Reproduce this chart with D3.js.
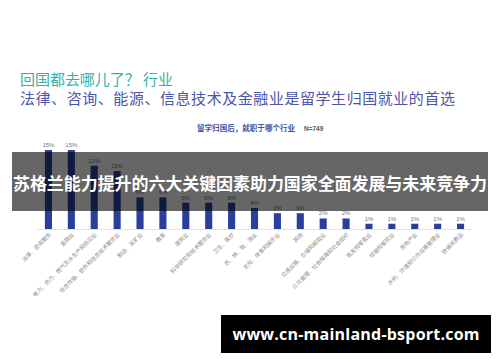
<!DOCTYPE html>
<html>
<head>
<meta charset="utf-8">
<script src="https://d3js.org/d3.v7.min.js"></script>
<style>
  html, body { margin: 0; padding: 0; background: #fff; }
  svg { display: block; }
</style>
</head>
<body>
<script>
  // data
  var categories = [
    "法律、咨询服务", "金融业", "电力、热力、燃气及水生产和供应业",
    "信息传输、软件和信息技术服务业", "制造、采矿业", "教育", "建筑业",
    "科学研究和技术服务业", "卫生、医疗", "农、林、牧、渔业",
    "文化、体育和娱乐业", "其他", "交通运输、仓储和邮政业",
    "公共管理、社会保障和社会组织", "批发和零售业", "住宿和餐饮业",
    "房地产业", "水利、环境和公共设施管理业", "快速消费品"
  ];
  var shares = [15, 15, 12, 11, 6, 6, 5, 5, 5, 4, 3, 3, 2, 2, 1, 1, 1, 1, 1];
  var titleLines = ["回国都去哪儿了？ 行业", "法律、咨询、能源、信息技术及金融业是留学生归国就业的首选"];
  var chartTitle = "留学归国后，就职于哪个行业";
  var sampleNote = "N=749";
  var bannerText = "苏格兰能力提升的六大关键因素助力国家全面发展与未来竞争力";
  var siteText = "www.cn-mainland-bsport.com";

  var W = 500, H = 362;
  var cjk = "'Noto Sans CJK SC', 'Noto Sans', sans-serif";

  var svg = d3.select("body").append("svg")
      .attr("width", W)
      .attr("height", H);

  svg.append("rect").attr("width", W).attr("height", H).attr("fill", "#fff");

  // headline
  svg.append("text")
      .attr("x", 20).attr("y", 85)
      .attr("font-family", cjk).attr("font-size", 15)
      .attr("fill", "#35b0a6")
      .attr("textLength", 153)
      .text(titleLines[0]);
  svg.append("text")
      .attr("x", 20).attr("y", 104)
      .attr("font-family", cjk).attr("font-size", 15)
      .attr("fill", "#4a56aa")
      .attr("textLength", 435)
      .text(titleLines[1]);

  svg.append("text")
      .attr("x", 197).attr("y", 131)
      .attr("font-family", cjk).attr("font-size", 7.5).attr("font-weight", 700)
      .attr("fill", "#4154a5")
      .attr("textLength", 98)
      .text(chartTitle);
  svg.append("text")
      .attr("x", 304).attr("y", 131)
      .attr("font-family", "'Liberation Sans', sans-serif").attr("font-size", 6.5).attr("font-weight", 700)
      .attr("fill", "#555")
      .text(sampleNote);

  // bar chart
  var x = d3.scaleBand()
      .domain(categories)
      .range([37, 472])
      .paddingInner(0.69)
      .paddingOuter(0.345);

  var y = d3.scaleLinear()
      .domain([0, 15])
      .range([229, 150]);

  var data = categories.map(function(c, i) { return { name: c, v: shares[i] }; });

  svg.append("line")
      .attr("x1", 37).attr("x2", 472)
      .attr("y1", y(0) + 0.5).attr("y2", y(0) + 0.5)
      .attr("stroke", "#e2e2e2");

  svg.selectAll("rect.bar")
      .data(data)
      .enter().append("rect")
      .attr("class", "bar")
      .attr("x", function(d) { return x(d.name); })
      .attr("width", x.bandwidth())
      .attr("y", function(d) { return y(d.v); })
      .attr("height", function(d) { return y(0) - y(d.v); })
      .attr("fill", "#2a3f9c");

  svg.selectAll("text.val")
      .data(data)
      .enter().append("text")
      .attr("class", "val")
      .attr("x", function(d) { return x(d.name) + x.bandwidth() / 2; })
      .attr("y", function(d) { return y(d.v) - 3; })
      .attr("text-anchor", "middle")
      .attr("font-family", "'Liberation Sans', sans-serif")
      .attr("font-size", 6)
      .attr("fill", "#777")
      .text(function(d) { return d.v + "%"; });

  svg.selectAll("text.cat")
      .data(data)
      .enter().append("text")
      .attr("class", "cat")
      .attr("transform", function(d) {
        return "translate(" + (x(d.name) + x.bandwidth() / 2 + 3) + "," + (y(0) + 6) + ") rotate(-45)";
      })
      .attr("text-anchor", "end")
      .attr("font-family", cjk)
      .attr("font-size", 5.5)
      .attr("fill", "#8a8a8a")
      .text(function(d) { return d.name; });

  // dark banner across the chart
  svg.append("rect")
      .attr("x", 12).attr("y", 152)
      .attr("width", 476).attr("height", 59)
      .attr("fill", "#000").attr("fill-opacity", 0.6);
  svg.append("text")
      .attr("x", 250).attr("y", 190)
      .attr("text-anchor", "middle")
      .attr("font-family", cjk).attr("font-size", 17).attr("font-weight", 700)
      .attr("fill", "#fff")
      .attr("textLength", 474)
      .text(bannerText);

  // site box
  svg.append("rect")
      .attr("x", 221).attr("y", 315)
      .attr("width", 270).attr("height", 38)
      .attr("fill", "#000");
  svg.append("text")
      .attr("x", 356).attr("y", 340)
      .attr("text-anchor", "middle")
      .attr("font-family", "'Open Sans', sans-serif").attr("font-size", 16).attr("font-weight", 700)
      .attr("fill", "#fff")
      .attr("textLength", 247)
      .text(siteText);
</script>
</body>
</html>
